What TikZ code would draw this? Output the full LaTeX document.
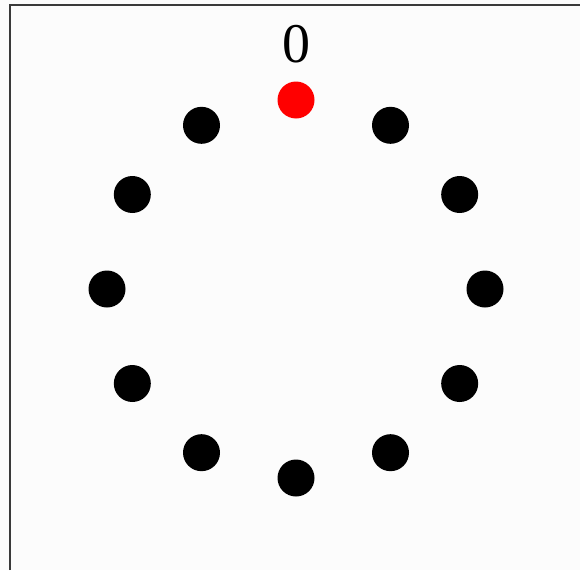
\documentclass[tikz,border=0pt]{standalone}
\usepackage{fontspec}
\setmainfont{Liberation Serif}
\usepackage{xcolor}
\usetikzlibrary{positioning}
\definecolor{cBack}{HTML}{FCFCFC}
\definecolor{cFrame}{HTML}{3A3A3A}
\tikzset{
  dot/.style={circle,fill=#1,minimum size=37pt,inner sep=0pt},
  dot/.default=black,
  numlbl/.style={font=\fontsize{56}{60}\selectfont,inner sep=0pt,anchor=base},
}

\begin{document}
\begin{tikzpicture}[x=1pt,y=-1pt]
    \useasboundingbox[fill=cBack] (0,0) rectangle (580,570);
    \draw[cFrame,line width=1.3pt] (10,570) -- (10,5) -- (580,5);
    % ring of positions, 0 on top
    \foreach \i in {0,...,11}{
      \ifnum\i=0
        \node[dot=red] (p\i) at ({296+189*sin(30*\i)},{289-189*cos(30*\i)}) {};
      \else
        \node[dot] (p\i) at ({296+189*sin(30*\i)},{289-189*cos(30*\i)}) {};
      \fi
    }
    \node[numlbl] (l0) at (296,62) {0};
  \end{tikzpicture}
\end{document}
